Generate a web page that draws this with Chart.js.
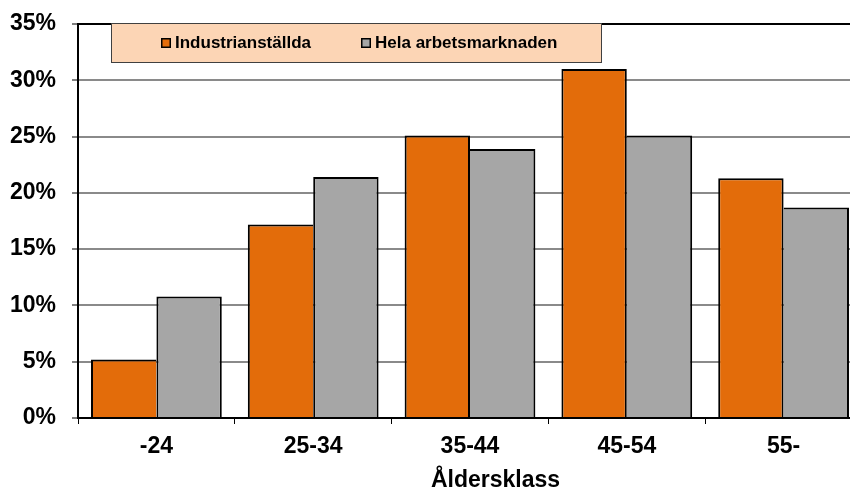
<!DOCTYPE html>
<html>
<head>
<meta charset="utf-8">
<script src="https://cdn.jsdelivr.net/npm/chart.js@4.4.1/dist/chart.umd.min.js"></script>
<style>
  html, body { margin: 0; padding: 0; background: #fff; overflow: hidden; }
  #wrap { width: 850px; height: 490px; overflow: hidden; position: relative; }
  canvas { display: block; }
</style>
</head>
<body>
<div id="wrap"><canvas id="c" width="870" height="490"></canvas></div>
<script>
const categories = ['-24', '25-34', '35-44', '45-54', '55-'];
const industri = [5.2, 17.2, 25.1, 31.0, 21.3];
const helaArbetsmarknaden = [10.8, 21.4, 23.9, 25.1, 18.7];
const seriesNames = ['Industrianställda', 'Hela arbetsmarknaden'];
const yTickLabels = ['0%', '5%', '10%', '15%', '20%', '25%', '30%', '35%'];
const xTitle = 'Åldersklass';

const ORANGE = '#E36C0A';
const GREY = '#A6A6A6';
const FONT = "'Liberation Sans', Arial, sans-serif";

Chart.defaults.font.family = FONT;
Chart.defaults.color = '#000';

const overlayPlugin = {
  id: 'overlay',
  afterDraw(chart) {
    const ctx = chart.ctx;
    ctx.save();
    // legend box
    ctx.fillStyle = '#FCD5B5';
    ctx.fillRect(111, 23, 491, 40);
    ctx.strokeStyle = '#404040';
    ctx.lineWidth = 1;
    ctx.strokeRect(111.5, 23.5, 490, 39);
    const items = [
      { x: 161, color: chart.data.datasets[0].backgroundColor, text: chart.data.datasets[0].label },
      { x: 361, color: chart.data.datasets[1].backgroundColor, text: chart.data.datasets[1].label }
    ];
    ctx.font = 'bold 17px ' + FONT;
    ctx.textBaseline = 'middle';
    ctx.textAlign = 'left';
    items.forEach(it => {
      ctx.fillStyle = it.color;
      ctx.fillRect(it.x, 38, 10, 10);
      ctx.strokeStyle = '#000';
      ctx.lineWidth = 1.5;
      ctx.strokeRect(it.x + 0.75, 38.75, 8.5, 8.5);
      ctx.fillStyle = '#000';
      ctx.fillText(it.text, it.x + 14, 43.5);
    });
    // x axis title
    ctx.font = 'bold 23px ' + FONT;
    ctx.textAlign = 'center';
    ctx.textBaseline = 'alphabetic';
    ctx.fillText(xTitle, 495.5, 487);
    ctx.restore();
  }
};

new Chart(document.getElementById('c'), {
  type: 'bar',
  data: {
    labels: categories,
    datasets: [
      {
        label: seriesNames[0],
        data: industri,
        backgroundColor: ORANGE,
        borderColor: '#000',
        borderWidth: (c) => {
          const i = c.dataIndex;
          return { left: 2, top: 2, right: industri[i] >= helaArbetsmarknaden[i] ? 2 : 0, bottom: 0 };
        },
        borderSkipped: false
      },
      {
        label: seriesNames[1],
        data: helaArbetsmarknaden,
        backgroundColor: GREY,
        borderColor: '#000',
        borderWidth: (c) => {
          const i = c.dataIndex;
          return { left: helaArbetsmarknaden[i] > industri[i] ? 2 : 0, top: 2, right: 2, bottom: 0 };
        },
        borderSkipped: false
      }
    ]
  },
  options: {
    responsive: false,
    devicePixelRatio: 1,
    animation: false,
    layout: { padding: { top: 24, right: 8, bottom: 0, left: 0 } },
    datasets: { bar: { categoryPercentage: 0.834, barPercentage: 1.0 } },
    plugins: {
      legend: { display: false },
      tooltip: { enabled: false }
    },
    scales: {
      x: {
        offset: true,
        afterFit: (s) => { s.height = 72; },
        grid: {
          offset: true,
          drawOnChartArea: false,
          drawTicks: true,
          tickLength: 6,
          color: '#000',
          lineWidth: 1
        },
        border: { display: true, color: '#000', width: 2 },
        ticks: {
          font: { size: 23, weight: 'bold' },
          color: '#000',
          padding: 9,
          maxRotation: 0
        }
      },
      y: {
        min: 0,
        max: 35,
        afterFit: (s) => { s.width = 78; },
        ticks: {
          stepSize: 5,
          font: { size: 23, weight: 'bold', lineHeight: 0.4 },
          color: '#000',
          padding: 16,
          callback: (v, i) => yTickLabels[i]
        },
        grid: {
          drawTicks: true,
          tickLength: 6,
          tickColor: '#000',
          tickWidth: 1,
          color: (c) => (c.tick && c.tick.value === 35) ? '#000' : '#8a8a8a',
          lineWidth: 2
        },
        border: { display: true, color: '#000', width: 2 }
      }
    }
  },
  plugins: [overlayPlugin]
});
</script>
</body>
</html>
